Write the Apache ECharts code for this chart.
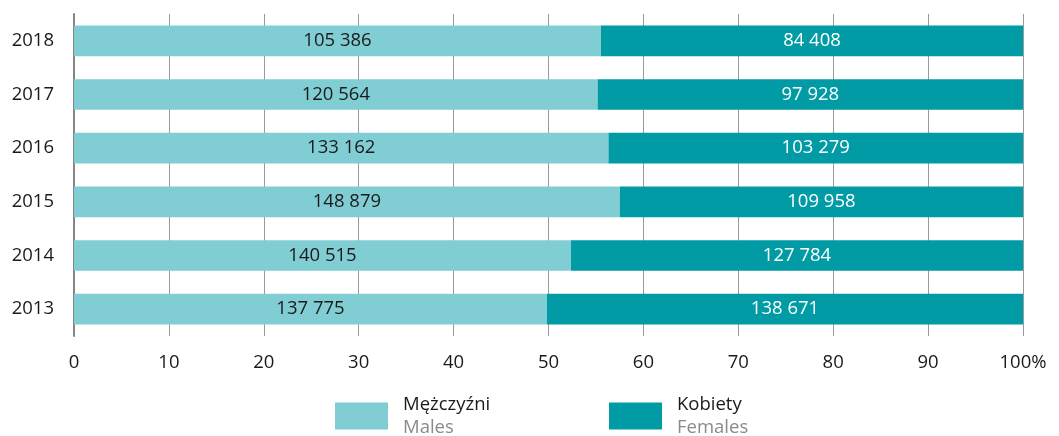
<!DOCTYPE html>
<html>
<head>
<meta charset="utf-8">
<script src="https://cdn.jsdelivr.net/npm/echarts@6/dist/echarts.min.js"></script>
<style>
html,body{margin:0;padding:0;background:#fff;}
#c{width:1059px;height:436px;}
</style>
</head>
<body>
<div id="c"></div>
<script>
const years = ['2013','2014','2015','2016','2017','2018'];
const males = [137775, 140515, 148879, 133162, 120564, 105386];
const females = [138671, 127784, 109958, 103279, 97928, 84408];
const xTicks = [0,10,20,30,40,50,60,70,80,90,100];

const FONT = '"Open Sans", "Noto Sans", sans-serif';
const FS = 18.5;
const fmt = v => String(v).replace(/\B(?=(\d{3})+(?!\d))/g, ' ');
const malePct = males.map((m,i) => m / (m + females[i]) * 100);
const femalePct = females.map((f,i) => f / (males[i] + f) * 100);

const legendText = {
  padding:[0,0,0,10],
  rich:{
    a:{fontSize:FS, color:'#1a1a1a', fontFamily:FONT, lineHeight:23},
    b:{fontSize:FS, color:'#8a8a8a', fontFamily:FONT, lineHeight:23}
  }
};
const legendFmt = n => n === 'Mężczyźni' ? '{a|Mężczyźni}\n{b|Males}' : '{a|Kobiety}\n{b|Females}';

const chart = echarts.init(document.getElementById('c'), null, {renderer:'canvas'});
chart.setOption({
  animation:false,
  textStyle:{fontFamily:FONT},
  grid:{left:74, right:36, top:14, bottom:100, containLabel:false},
  xAxis:{
    type:'value', min:0, max:100, interval:10,
    axisLine:{show:false}, axisTick:{show:false},
    splitLine:{show:true, lineStyle:{color:'#9a9a9a', width:1}},
    axisLabel:{
      margin:17, fontSize:FS, color:'#1a1a1a', fontFamily:FONT,
      formatter: v => (v === 100 ? '100%' : String(v))
    }
  },
  yAxis:{
    type:'category', data:years,
    axisLine:{show:true, lineStyle:{color:'#858585', width:2}},
    axisTick:{show:false},
    axisLabel:{margin:20, fontSize:FS, color:'#1a1a1a', fontFamily:FONT}
  },
  legend:[
    {
      left:330, top:390, orient:'horizontal',
      itemWidth:53, itemHeight:27, icon:'rect',
      data:['Mężczyźni'], formatter:legendFmt, textStyle:legendText
    },
    {
      left:604, top:390, orient:'horizontal',
      itemWidth:53, itemHeight:27, icon:'rect',
      data:['Kobiety'], formatter:legendFmt, textStyle:legendText
    }
  ],
  series:[
    {
      name:'Mężczyźni', type:'bar', stack:'t', barWidth:'57%',
      itemStyle:{color:'#80CDD3'},
      data:malePct,
      label:{show:true, position:'inside', fontSize:FS, color:'#1a1a1a', fontFamily:FONT,
        formatter: p => fmt(males[p.dataIndex])}
    },
    {
      name:'Kobiety', type:'bar', stack:'t', barWidth:'57%',
      itemStyle:{color:'#009BA4'},
      data:femalePct,
      label:{show:true, position:'inside', fontSize:FS, color:'#ffffff', fontFamily:FONT,
        formatter: p => fmt(females[p.dataIndex])}
    }
  ]
});
</script>
</body>
</html>
